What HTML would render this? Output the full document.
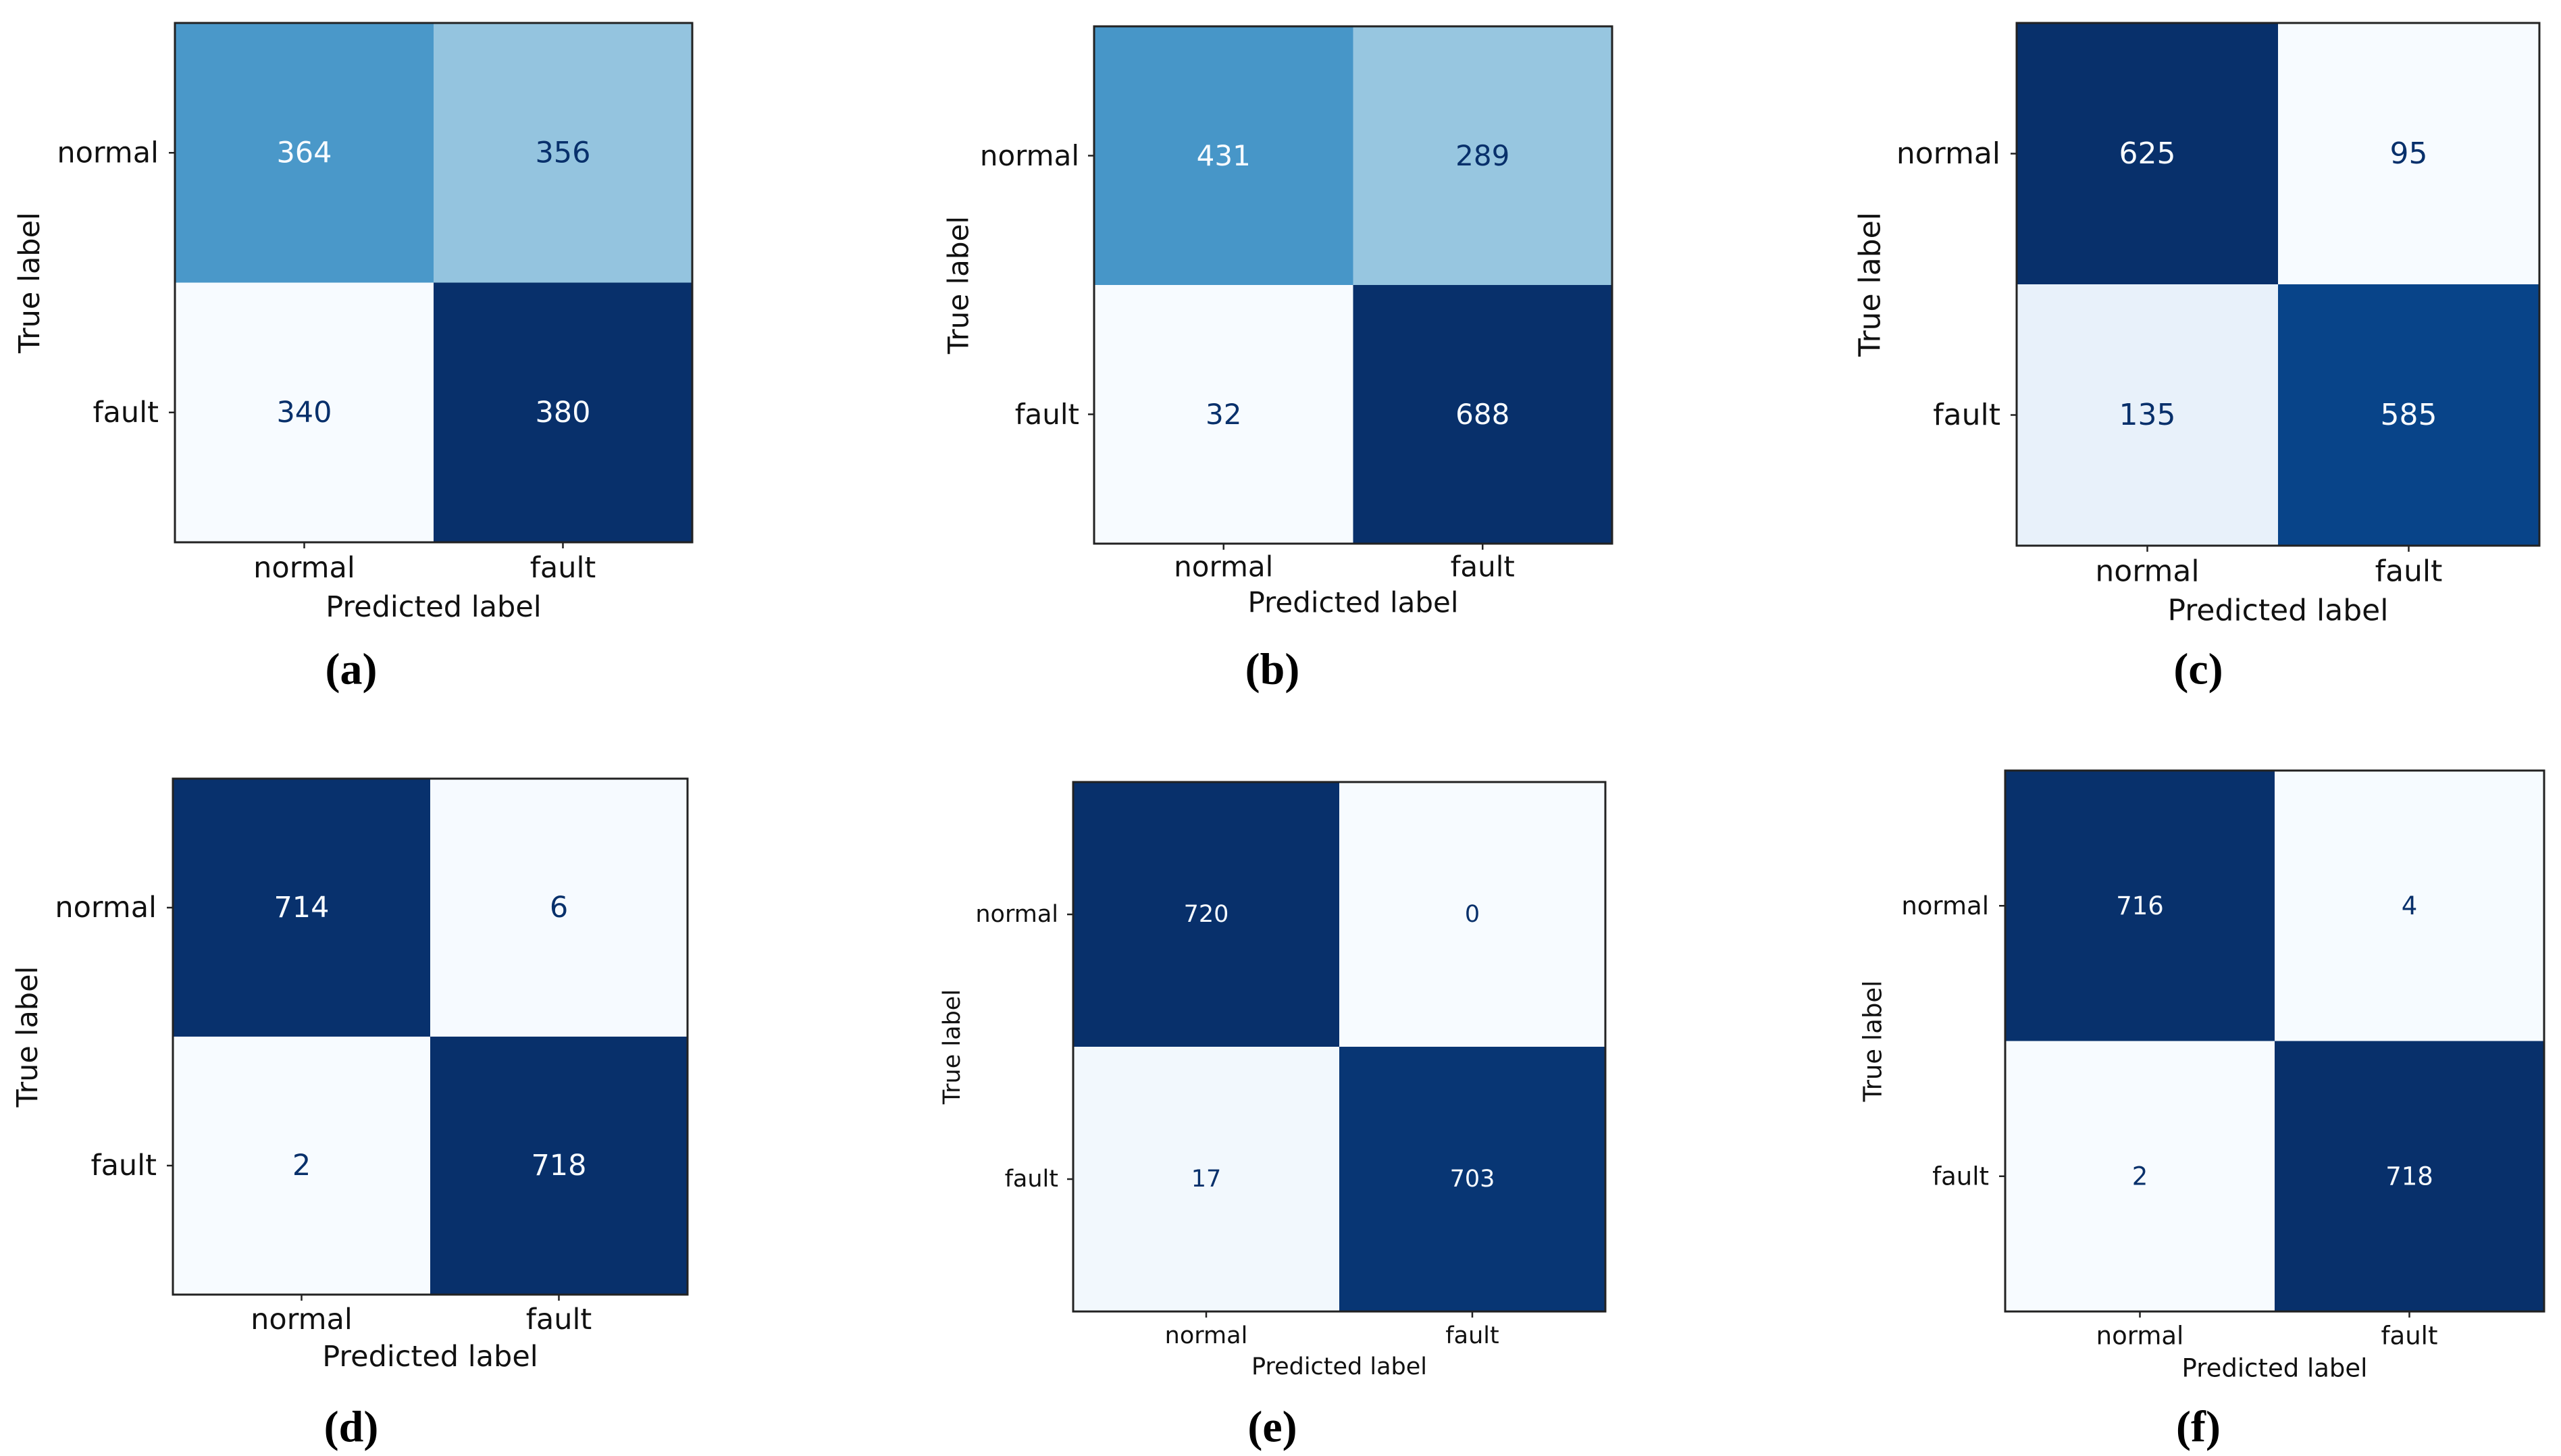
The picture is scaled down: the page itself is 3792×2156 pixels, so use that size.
<!DOCTYPE html>
<html><head><meta charset="utf-8"><style>
html,body{margin:0;padding:0;background:#fff;}
svg{display:block;}
text{font-family:"DejaVu Sans","Liberation Sans",sans-serif;}
.cap{font-family:"Liberation Serif",serif;font-weight:bold;}
</style></head><body>
<svg id="fig" width="3792" height="2156" viewBox="0 0 3792 2156" xmlns="http://www.w3.org/2000/svg"></svg>
<script>
const classLabels = ["normal", "fault"];
const panelIds = ["a", "b", "c", "d", "e", "f"];
const valuesA = [[364, 356], [340, 380]];
const valuesB = [[431, 289], [32, 688]];
const valuesC = [[625, 95], [135, 585]];
const valuesD = [[714, 6], [2, 718]];
const valuesE = [[720, 0], [17, 703]];
const valuesF = [[716, 4], [2, 718]];
const allValues = [valuesA, valuesB, valuesC, valuesD, valuesE, valuesF];

const layout = [
 {x0:259,x1:1025,y0:34,y1:803,xt:841,pl:899,tx:44,yr:235,cx:520,cy:991,fs:43},
 {x0:1620,x1:2387,y0:39,y1:805,xt:839,pl:892,tx:1419,yr:1598,cx:1884,cy:991,fs:42},
 {x0:2986,x1:3760,y0:34,y1:808,xt:846,pl:904,tx:2769,yr:2962,cx:3255,cy:991,fs:44},
 {x0:256,x1:1018,y0:1153,y1:1917,xt:1954,pl:2009,tx:41,yr:232,cx:520,cy:2113,fs:43},
 {x0:1589,x1:2377,y0:1158,y1:1942,xt:1978,pl:2024,tx:1410,yr:1567,cx:1884,cy:2113,fs:35},
 {x0:2969,x1:3767,y0:1141,y1:1942,xt:1978,pl:2026,tx:2773,yr:2945,cx:3255,cy:2113,fs:37}
];

const stops=["#f7fbff","#deebf7","#c6dbef","#9ecae1","#6baed6","#4292c6","#2171b5","#08519c","#08306b"];
function hex(c){return [1,3,5].map(i=>parseInt(c.substr(i,2),16));}
function blues(t){
  t=Math.max(0,Math.min(1,t));
  const p=t*(stops.length-1),i=Math.min(Math.floor(p),stops.length-2),f=p-i;
  const a=hex(stops[i]),b=hex(stops[i+1]);
  return "rgb("+a.map((v,k)=>Math.round(v+(b[k]-v)*f)).join(",")+")";
}
const NS="http://www.w3.org/2000/svg";
const svg=document.getElementById("fig");
function mk(tag,attrs,parent,txt){
  const e=document.createElementNS(NS,tag);
  for(const k in attrs)e.setAttribute(k,attrs[k]);
  if(txt!==undefined)e.textContent=txt;
  parent.appendChild(e);return e;
}
allValues.forEach((vals,pi)=>{
  const L=layout[pi];
  const g=mk("g",{},svg);
  
  
  const flat=vals.flat(),vmin=Math.min(...flat),vmax=Math.max(...flat);
  const n=classLabels.length;
  const cw=(L.x1-L.x0)/n,ch=(L.y1-L.y0)/n;
  const xScale=j=>L.x0+cw*j, yScale=i=>L.y0+ch*i;
  const thresh=(vmin+vmax)/2;
  for(let i=0;i<n;i++)for(let j=0;j<n;j++){
    const v=vals[i][j];
    const r=mk("rect",{x:xScale(j),y:yScale(i),width:cw,height:ch,fill:blues((v-vmin)/(vmax-vmin||1))},g);
    
    
    const t=mk("text",{x:xScale(j)+cw/2,y:yScale(i)+ch/2,"text-anchor":"middle","dominant-baseline":"central","font-size":L.fs,fill:v>=thresh?"#f7fbff":"#08306b"},g,String(v));
    
    
  }
  const fr=mk("rect",{x:L.x0,y:L.y0,width:L.x1-L.x0,height:L.y1-L.y0,fill:"none",stroke:"#222","stroke-width":3},g);
  
  
  for(let k=0;k<n;k++){
    const cx=xScale(k)+cw/2, cy=yScale(k)+ch/2;
    mk("line",{x1:cx,x2:cx,y1:L.y1,y2:L.y1+9,stroke:"#222","stroke-width":2.5},g);
    mk("line",{x1:L.x0-9,x2:L.x0,y1:cy,y2:cy,stroke:"#222","stroke-width":2.5},g);
    const xt=mk("text",{x:cx,y:L.xt,"text-anchor":"middle","dominant-baseline":"central","font-size":L.fs,fill:"#111"},g,classLabels[k]);
    
    
    const yt=mk("text",{x:L.yr,y:cy,"text-anchor":"end","dominant-baseline":"central","font-size":L.fs,fill:"#111"},g,classLabels[k]);
    
    
  }
  const xl=mk("text",{x:(L.x0+L.x1)/2,y:L.pl,"text-anchor":"middle","dominant-baseline":"central","font-size":L.fs,fill:"#111"},g,"Predicted label");
  
  
  const ym=(L.y0+L.y1)/2;
  const yl=mk("text",{x:L.tx,y:ym,"text-anchor":"middle","dominant-baseline":"central","font-size":L.fs,fill:"#111",transform:"rotate(-90 "+L.tx+" "+ym+")"},g,"True label");
  
  
  const cp=mk("text",{x:L.cx,y:L.cy,"text-anchor":"middle","dominant-baseline":"central","font-size":66,fill:"#000",class:"cap"},g,"("+panelIds[pi]+")");
  
  
});
</script>
</body></html>
